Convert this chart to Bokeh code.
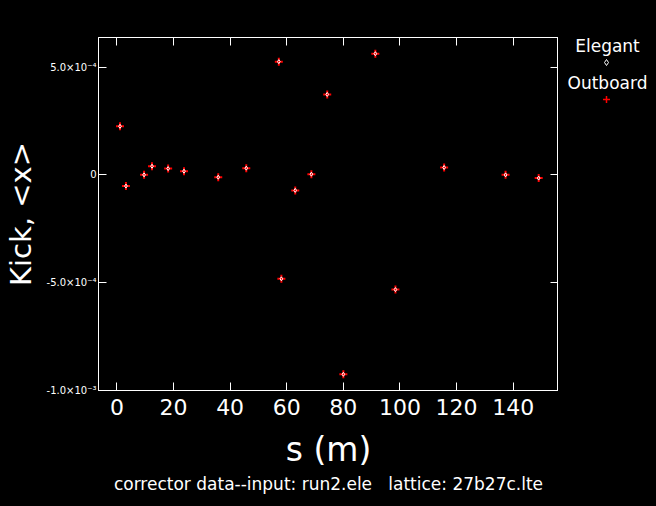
from bokeh.plotting import figure
from bokeh.layouts import row
from bokeh.models import (LinearAxis, FixedTicker, ColumnDataSource, Range1d, Title)
from bokeh.core.properties import value
from bokeh.embed import file_html
from bokeh.resources import INLINE

# data
s_pos = [1.1, 3.2, 9.6, 12.4, 18.1, 23.7, 35.8, 45.7, 57.2, 58.1, 63.0, 68.7,
         74.3, 80.0, 91.3, 98.4, 115.6, 137.3, 149.0]
kick_elegant = [2.25e-4, -5.2e-5, 0.0, 4.0e-5, 2.9e-5, 1.7e-5, -1.1e-5, 3.1e-5,
                5.25e-4, -4.82e-4, -7.2e-5, 3.0e-6, 3.73e-4, -9.25e-4, 5.62e-4,
                -5.32e-4, 3.4e-5, 0.0, -1.5e-5]
kick_outboard = [2.25e-4, -5.2e-5, 0.0, 4.0e-5, 2.9e-5, 1.7e-5, -1.1e-5, 3.1e-5,
                 5.25e-4, -4.82e-4, -7.2e-5, 3.0e-6, 3.73e-4, -9.25e-4, 5.62e-4,
                 -5.32e-4, 3.4e-5, 0.0, -1.5e-5]
x_ticks = [0, 20, 40, 60, 80, 100, 120, 140]
y_ticks = [5e-4, 0.0, -5e-4, -1e-3]
y_tick_labels = ["5.0×10⁻⁴", "0", "-5.0×10⁻⁴", "-1.0×10⁻³"]
series_names = ["Elegant", "Outboard"]
title_text = "corrector data--input: run2.ele\u00a0\u00a0\u00a0lattice: 27b27c.lte"

FONT = "DejaVu Sans"
H = 506
MAIN_W = 558
LEG_W = 98
TOP, BOTTOM = 37, 116

p = figure(width=MAIN_W, height=H, output_backend="svg", toolbar_location=None,
           x_range=Range1d(-6.5, 156.0), y_range=Range1d(-1.0e-3, 6.37e-4),
           min_border_left=98, min_border_right=0, min_border_top=TOP,
           min_border_bottom=BOTTOM, x_axis_location=None, y_axis_location=None)
p.background_fill_color = "black"
p.border_fill_color = "black"
p.outline_line_color = "white"
p.outline_line_width = 1
p.grid.visible = False


def style_axis(ax, show_labels):
    ax.axis_line_color = "white"
    ax.major_tick_line_color = "white"
    ax.major_tick_in = 8
    ax.major_tick_out = 0
    ax.minor_tick_line_color = None
    if not show_labels:
        ax.major_label_text_font_size = "0px"
        ax.major_label_text_color = None
        ax.major_label_standoff = 0


xb = LinearAxis(ticker=FixedTicker(ticks=x_ticks), axis_label="s (m)")
style_axis(xb, True)
xb.major_label_text_color = "white"
xb.major_label_text_font = FONT
xb.major_label_text_font_size = "22px"
xb.major_label_standoff = 8
xb.axis_label_text_color = "white"
xb.axis_label_text_font = FONT
xb.axis_label_text_font_size = "33px"
xb.axis_label_text_font_style = "normal"
xb.axis_label_standoff = 12
p.add_layout(xb, "below")

p.add_layout(Title(text=title_text, align="center", text_color="white",
                   text_font=FONT, text_font_size="17px",
                   text_font_style="normal", standoff=1), "below")

xt = LinearAxis(ticker=FixedTicker(ticks=x_ticks))
style_axis(xt, False)
p.add_layout(xt, "above")

yl = LinearAxis(ticker=FixedTicker(ticks=y_ticks), axis_label="Kick, <x>")
style_axis(yl, True)
yl.major_label_overrides = {t: l for t, l in zip(y_ticks, y_tick_labels)}
yl.major_label_text_color = "white"
yl.major_label_text_font = FONT
yl.major_label_text_font_size = "10px"
yl.major_label_standoff = 2
yl.axis_label_text_color = "white"
yl.axis_label_text_font = FONT
yl.axis_label_text_font_size = "29px"
yl.axis_label_text_font_style = "normal"
yl.axis_label_standoff = 6
p.add_layout(yl, "left")

yr = LinearAxis(ticker=FixedTicker(ticks=y_ticks))
style_axis(yr, False)
p.add_layout(yr, "right")

src = ColumnDataSource(dict(s=s_pos, e=kick_elegant, o=kick_outboard))
p.scatter("s", "o", source=src, marker="cross", size=8, line_color="red",
          line_width=2)
p.scatter("s", "e", source=src, marker="diamond", size=4, line_color="white",
          fill_color=None, line_width=1)

# legend panel (page-pixel coordinates): text above each series' symbol
leg = figure(width=LEG_W, height=H, output_backend="svg", toolbar_location=None,
             x_range=Range1d(MAIN_W, MAIN_W + LEG_W),
             y_range=Range1d(H - BOTTOM, TOP),
             min_border_left=0, min_border_right=0, min_border_top=TOP,
             min_border_bottom=BOTTOM, x_axis_location=None,
             y_axis_location=None)
leg.background_fill_color = "black"
leg.border_fill_color = "black"
leg.outline_line_color = None
leg.grid.visible = False
cx = 607
leg.text(x=[cx, cx], y=[45, 82], text=series_names, text_color="white",
         text_font=value(FONT), text_font_size="17px", text_align="center",
         text_baseline="middle")
leg.scatter(x=[cx - 1], y=[62], marker="diamond", size=6, line_color="white",
            fill_color=None, line_width=1)
leg.scatter(x=[cx - 1], y=[99], marker="cross", size=7, line_color="red",
            line_width=1.5)

layout = row(p, leg, spacing=0, styles={"background-color": "black"})
open("out.html", "w").write(file_html(layout, INLINE))
